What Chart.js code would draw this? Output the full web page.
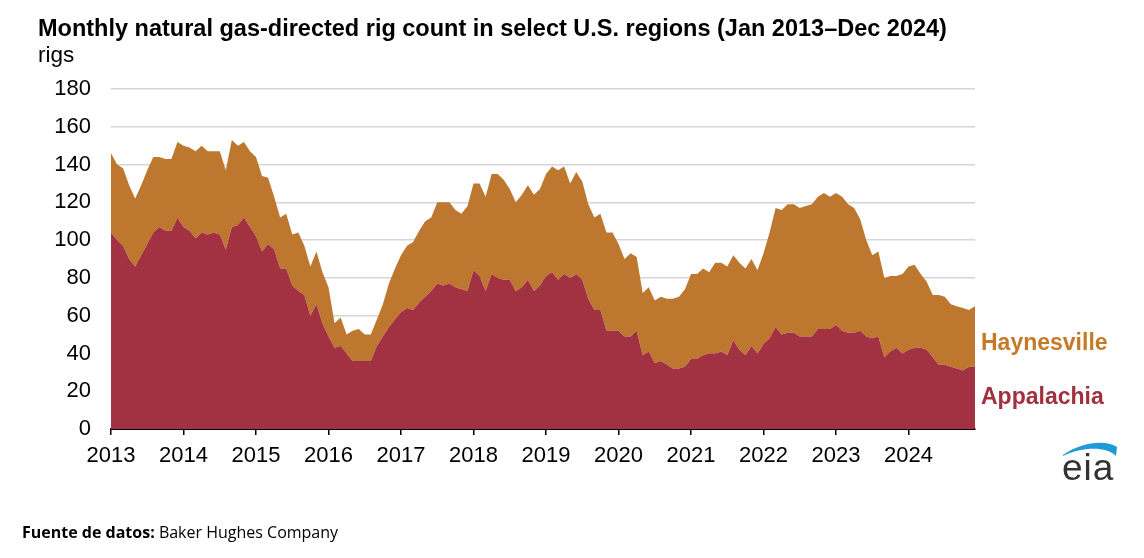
<!DOCTYPE html>
<html>
<head>
<meta charset="utf-8">
<script src="https://cdn.jsdelivr.net/npm/chart.js@4/dist/chart.umd.min.js"></script>
<style>
  html, body { margin: 0; padding: 0; background: #fff; }
  body { width: 1144px; height: 558px; position: relative; overflow: hidden; font-family: "Liberation Sans", Arial, sans-serif; }
  #c { position: absolute; left: 0; top: 0; }
  .t { position: absolute; white-space: nowrap; line-height: 1; }
  #title { left: 38px; top: 17px; font-size: 23.5px; font-weight: bold; color: #000; }
  #unit { left: 38px; top: 44px; font-size: 22.5px; color: #000; }
  #lh { left: 981px; top: 331px; font-size: 23px; font-weight: bold; color: #C47A26; }
  #la { left: 981px; top: 385px; font-size: 23px; font-weight: bold; color: #A0313F; }
  #src { left: 22px; top: 524px; font-size: 16px; font-family: "Open Sans", sans-serif; color: #000; }
  #logo { position: absolute; left: 1055px; top: 435px; }
</style>
</head>
<body>
<canvas id="c" width="1144" height="558"></canvas>
<div class="t" id="title">Monthly natural gas-directed rig count in select U.S. regions (Jan 2013–Dec 2024)</div>
<div class="t" id="unit">rigs</div>
<div class="t" id="lh">Haynesville</div>
<div class="t" id="la">Appalachia</div>
<div class="t" id="src"><b>Fuente de datos:</b> Baker Hughes Company</div>
<svg id="logo" width="80" height="55" viewBox="1055 435 80 55">
  <path d="M1063,455 C1080,443 1104,439 1117,447 L1116,456 C1107,447 1084,446 1063,456 Z" fill="#1E9AD6"/>
  <text x="1062" y="480" font-family="Liberation Sans, Arial, sans-serif" font-size="37" letter-spacing="1" fill="#333">eia</text>
</svg>
<script>
// Month index 0 = Jan 2013 ... 143 = Dec 2024
const startYear = 2013;
const yearTicks = [0, 12, 24, 36, 48, 60, 72, 84, 96, 108, 120, 132];
const yTicks = [0, 20, 40, 60, 80, 100, 120, 140, 160, 180];

const appalachia = [
  104,100,97,90,86,92,98,104,107,105,105,112,
  107,105,101,104,103,104,103,95,107,108,112,107,
  102,94,98,95,85,85,76,73,71,60,66,56,
  49,43,44,40,36,36,36,36,44,49,54,58,
  62,64,63,67,70,73,77,76,77,75,74,73,
  84,81,73,82,80,79,79,73,75,79,73,76,
  81,83,79,82,80,82,79,69,63,63,52,52,
  52,49,49,52,39,41,35,36,34,32,32,33,
  37,37,39,40,40,41,39,47,42,39,44,40,
  45,48,54,50,51,51,49,49,49,53,53,53,
  55,52,51,51,52,49,48,49,38,41,43,40,
  42,43,43,42,38,34,34,33,32,31,33,33
];
const haynesville = [
  42,40,41,39,36,37,39,40,37,38,38,40,
  43,44,46,46,44,43,44,42,46,42,40,40,
  42,40,35,28,27,29,27,31,26,26,28,27,
  26,13,15,10,16,17,14,14,14,17,23,27,
  30,33,36,38,40,39,43,44,43,41,40,45,
  46,49,50,53,55,53,48,47,49,50,51,51,
  54,56,58,57,50,54,52,50,49,51,52,52,
  46,41,44,39,33,34,33,34,35,37,38,41,
  45,45,46,43,48,47,47,45,46,46,46,44,
  48,56,63,66,68,68,68,69,70,70,72,70,
  70,71,68,66,59,51,44,45,42,40,38,42,
  44,44,39,36,33,37,36,33,33,33,30,32
];

const toPoints = arr => arr.map((v, i) => ({ x: i, y: v }));

new Chart(document.getElementById('c'), {
  type: 'line',
  data: {
    datasets: [
      { label: 'Appalachia', data: toPoints(appalachia), backgroundColor: '#A23242', borderColor: '#A23242', borderWidth: 0, pointRadius: 0, fill: 'origin', tension: 0 },
      { label: 'Haynesville', data: toPoints(haynesville), backgroundColor: '#BD772E', borderColor: '#BD772E', borderWidth: 0, pointRadius: 0, fill: '-1', tension: 0 }
    ]
  },
  options: {
    responsive: false,
    animation: false,
    events: [],
    layout: { padding: { top: 89, right: 169, left: 0, bottom: 0 } },
    plugins: { legend: { display: false }, tooltip: { enabled: false }, title: { display: false } },
    scales: {
      x: {
        type: 'linear',
        min: 0,
        max: appalachia.length - 1,
        z: 1,
        afterFit: s => { s.height = 129; },
        afterBuildTicks: s => { s.ticks = yearTicks.map(v => ({ value: v })); },
        grid: { display: true, drawOnChartArea: false, drawTicks: true, tickLength: 6, color: '#000', lineWidth: 1.5 },
        border: { display: true, color: '#000', width: 2 },
        ticks: {
          autoSkip: false, maxRotation: 0, padding: 8, color: '#000',
          font: { family: 'Liberation Sans, Arial, sans-serif', size: 22 },
          callback: v => String(startYear + v / 12)
        }
      },
      y: {
        stacked: true,
        min: 0,
        max: 180,
        afterFit: s => { s.width = 111; },
        afterBuildTicks: s => { s.ticks = yTicks.map(v => ({ value: v })); },
        grid: { color: '#d6d6d6', lineWidth: 1.5, drawTicks: false },
        border: { display: false },
        ticks: { padding: 20, color: '#000', font: { family: 'Liberation Sans, Arial, sans-serif', size: 22 } }
      }
    }
  }
});
</script>
</body>
</html>
